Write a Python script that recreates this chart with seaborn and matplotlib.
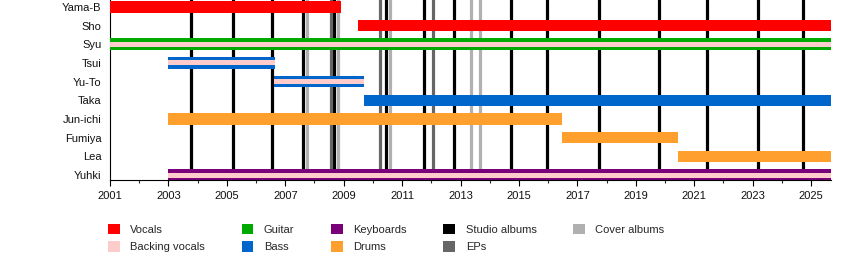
import matplotlib
matplotlib.use("Agg")
import matplotlib.pyplot as plt
import seaborn as sns
import pandas as pd
from matplotlib.patches import Patch
from matplotlib.ticker import FixedLocator, MultipleLocator

# ---------------- data ----------------
members = ["Yama-B", "Sho", "Syu", "Tsui", "Yu-To", "Taka",
           "Jun-ichi", "Fumiya", "Lea", "Yuhki"]

END = 2025.68

bar_member = ["Yama-B", "Sho", "Syu", "Tsui", "Yu-To", "Taka",
              "Jun-ichi", "Fumiya", "Lea", "Yuhki"]
bar_start = [2001.0, 2009.49, 2001.0, 2003.0, 2006.62, 2009.68,
             2003.0, 2016.47, 2020.43, 2003.0]
bar_end = [2008.91, END, END, 2006.65, 2009.70, END,
           2016.47, 2020.45, END, END]
bar_role = ["Vocals", "Vocals", "Guitar", "Bass", "Bass", "Bass",
            "Drums", "Drums", "Drums", "Keyboards"]

backing_member = ["Syu", "Tsui", "Yu-To", "Yuhki"]
backing_start = [2001.0, 2003.0, 2006.62, 2003.0]
backing_end = [END, 2006.65, 2009.70, END]

studio_albums = [2003.77, 2005.21, 2006.55, 2007.61, 2008.67, 2010.45,
                 2011.75, 2012.78, 2014.73, 2015.96, 2017.74, 2019.79,
                 2021.44, 2023.18, 2024.72]
eps = [2008.57, 2010.24, 2012.06]
cover_albums = [2007.74, 2008.81, 2010.59, 2013.36, 2013.67]

tick_years = [2001, 2003, 2005, 2007, 2009, 2011, 2013,
              2015, 2017, 2019, 2021, 2023, 2025]

legend_labels = ["Vocals", "Backing vocals", "Guitar", "Bass", "Keyboards",
                 "Drums", "Studio albums", "EPs", "Cover albums"]

colors = {
    "Vocals": "#FF0000",
    "Backing vocals": "#FFCCCC",
    "Guitar": "#00AA00",
    "Bass": "#0066CC",
    "Keyboards": "#7A007A",
    "Drums": "#FFA02E",
    "Studio albums": "#000000",
    "EPs": "#666666",
    "Cover albums": "#B0B0B0",
}

# ---------------- style ----------------
sns.set_theme(style="white")
plt.rcParams["font.family"] = ["Liberation Sans", "DejaVu Sans"]

W, H = 850, 260
fig = plt.figure(figsize=(W / 100, H / 100), dpi=100)
ax = fig.add_axes([110 / W, 1 - 180 / H, (831 - 110) / W, 180 / H])

pos = {m: i for i, m in enumerate(members)}

# album lines (behind bars)
for x in studio_albums:
    ax.axvline(x, color=colors["Studio albums"], lw=2.3, zorder=1)
for x in eps:
    ax.axvline(x, color=colors["EPs"], lw=2.3, zorder=1)
for x in cover_albums:
    ax.axvline(x, color=colors["Cover albums"], lw=2.3, zorder=1)

df = pd.DataFrame({"member": bar_member, "start": bar_start,
                   "end": bar_end, "role": bar_role})
df["y"] = df["member"].map(pos)
ax.barh(df["y"], df["end"] - df["start"], left=df["start"], height=0.62,
        color=[colors[r] for r in df["role"]], linewidth=0, zorder=3)

bdf = pd.DataFrame({"member": backing_member, "start": backing_start,
                    "end": backing_end})
bdf["y"] = bdf["member"].map(pos)
ax.barh(bdf["y"], bdf["end"] - bdf["start"], left=bdf["start"], height=0.26,
        color=colors["Backing vocals"], linewidth=0, zorder=4)

# axes
ax.set_xlim(2001, END)
ax.set_ylim(9.262, -0.364)
ax.set_yticks(range(len(members)))
ax.set_yticklabels(members)
ax.xaxis.set_major_locator(FixedLocator(tick_years))
ax.set_xticklabels([str(t) for t in tick_years])
ax.xaxis.set_minor_locator(MultipleLocator(1))
ax.tick_params(axis="x", which="major", direction="out", length=4, width=0.8,
               labelsize=8, pad=4, colors="#000000", bottom=True)
ax.tick_params(axis="x", which="minor", direction="out", length=2.5,
               width=0.8, bottom=True)
ax.tick_params(axis="y", length=0, labelsize=8, pad=6, colors="#111111")
for lab in ax.get_xticklabels():
    lab.set_color("#111111")

for s in ["top", "right"]:
    ax.spines[s].set_visible(False)
for s in ["left", "bottom"]:
    ax.spines[s].set_color("#000000")
    ax.spines[s].set_linewidth(0.8)
ax.spines["bottom"].set_zorder(5)

handles = [Patch(facecolor=colors[l], edgecolor="none", label=l)
           for l in legend_labels]
fig.legend(handles=handles, ncol=5, loc="upper left",
           bbox_to_anchor=(108 / W, 1 - 224 / H),
           bbox_transform=fig.transFigure, frameon=False, fontsize=8,
           handlelength=1.05, handleheight=1.05, handletextpad=0.95,
           columnspacing=3.3, labelspacing=0.58, borderpad=0,
           borderaxespad=0)

fig.savefig("out.png", dpi=100)
